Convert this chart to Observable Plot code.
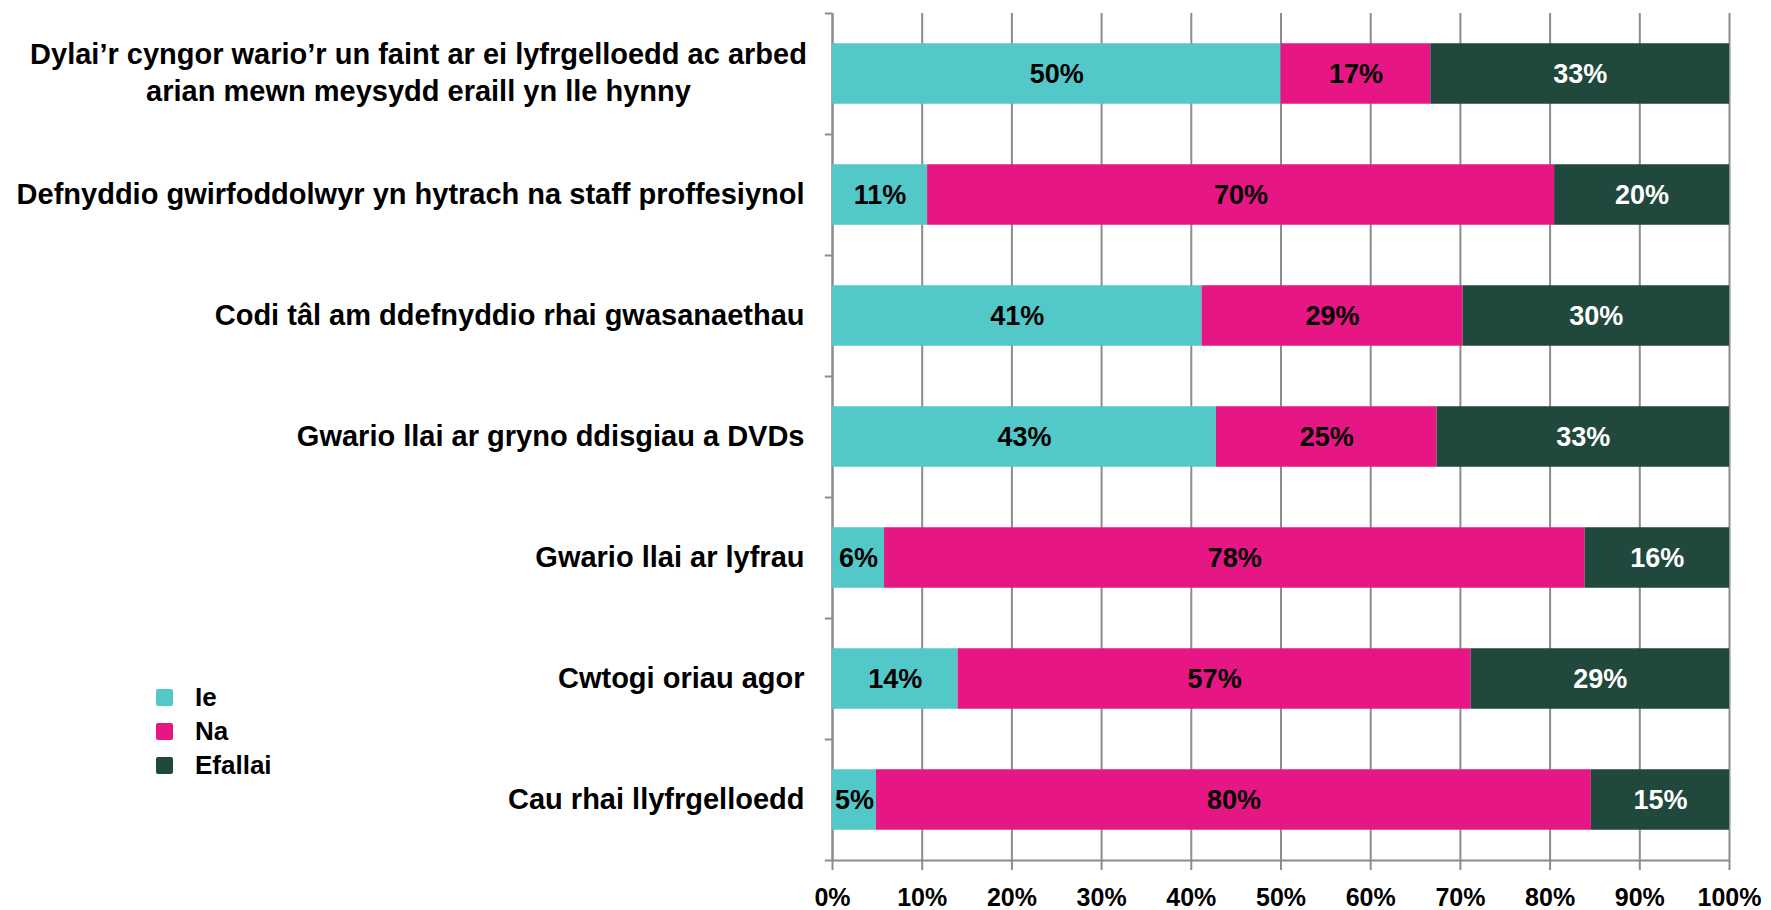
<!DOCTYPE html>
<html><head><meta charset="utf-8">
<script src="https://cdn.jsdelivr.net/npm/d3@7"></script>
<script src="https://cdn.jsdelivr.net/npm/@observablehq/plot@0.6"></script>
<style>
html,body{margin:0;padding:0;background:#fff;}
#wrap{position:relative;width:1771px;height:910px;font-family:"Liberation Sans",Arial,sans-serif;}
#legend{position:absolute;left:156px;top:680px;font-family:"Liberation Sans",Arial,sans-serif;font-weight:bold;font-size:26px;color:#000;}
#legend .item{display:flex;align-items:center;height:34px;}
#legend .sw{width:17px;height:17px;border-radius:2px;margin-right:22px;}
</style></head><body><div id="wrap"><div id="legend"></div></div>
<script>
const questions = [
  "Dylai’r cyngor wario’r un faint ar ei lyfrgelloedd ac arbed\narian mewn meysydd eraill yn lle hynny",
  "Defnyddio gwirfoddolwyr yn hytrach na staff proffesiynol",
  "Codi tâl am ddefnyddio rhai gwasanaethau",
  "Gwario llai ar gryno ddisgiau a DVDs",
  "Gwario llai ar lyfrau",
  "Cwtogi oriau agor",
  "Cau rhai llyfrgelloedd"
];
const responses = ["Ie", "Na", "Efallai"];
const colors = ["#52C9C8", "#E61784", "#20483C"];
const ie      = [50.0, 10.6, 41.2, 42.8, 5.8, 14.0, 4.9];
const na      = [16.7, 69.9, 29.1, 24.6, 78.1, 57.2, 79.7];
const efallai = [33.3, 19.5, 29.7, 32.6, 16.1, 28.8, 15.4];
const xTicks = [0, 10, 20, 30, 40, 50, 60, 70, 80, 90, 100];

const series = [ie, na, efallai];
const data = [];
questions.forEach((q, i) => responses.forEach((r, j) => data.push({q, resp: r, value: series[j][i]})));

const W = 1771, H = 910, mT = 13, mB = 50, mL = 832, mR = 42;
const step = (H - mT - mB) / questions.length;
const gray = "#8c8c8c";
const font = "'Liberation Sans', Arial, sans-serif";

const stackOpts = {x: "value", y: "q", z: "resp", order: responses};
const single = questions.slice(1);
const multi = questions.slice(0, 1);

const chart = Plot.plot({
  width: W, height: H,
  marginTop: mT, marginBottom: mB, marginLeft: mL, marginRight: mR,
  style: {fontFamily: font, color: "#000", background: "#fff"},
  x: {domain: [0, 100], axis: null, label: null},
  y: {domain: questions, paddingInner: 0.5, paddingOuter: 0.25, round: false, axis: null, label: null},
  color: {domain: responses, range: colors},
  marks: [
    Plot.gridX(xTicks, {stroke: gray, strokeOpacity: 1, strokeWidth: 2}),
    Plot.ruleX([0], {stroke: gray, strokeWidth: 2}),
    Plot.ruleY(questions, {y: d => d, x1: -0.8, x2: 0, dy: -step / 2, stroke: gray, strokeWidth: 2}),
    Plot.ruleY(questions.slice(-1), {y: d => d, x1: -0.8, x2: 100, dy: step / 2, stroke: gray, strokeWidth: 2}),
    Plot.axisX(xTicks, {label: null, tickFormat: d => d + "%", tickSize: 10, tickPadding: 18, stroke: gray, strokeWidth: 2, fontSize: 25, fontWeight: "bold", fill: "#000"}),
    Plot.barX(data, Plot.stackX({...stackOpts, fill: "resp"})),
    Plot.text(data.filter(d => d.resp !== "Efallai"), Plot.stackX({...stackOpts, text: d => Math.round(d.value) + "%", fill: "#000", fontSize: 27, fontWeight: "bold"})),
    Plot.text(data, Plot.stackX({...stackOpts, text: d => d.resp === "Efallai" ? Math.round(d.value) + "%" : "", fill: "#fff", fontSize: 27, fontWeight: "bold"})),
    Plot.text(single, {y: d => d, frameAnchor: "left", textAnchor: "end", dx: -28, fontSize: 29, fontWeight: "bold", fill: "#000"}),
    Plot.text(multi, {y: d => d, frameAnchor: "left", textAnchor: "middle", dx: -414, dy: -3, lineHeight: 1.28, fontSize: 29, fontWeight: "bold", fill: "#000"})
  ]
});
document.getElementById("wrap").prepend(chart);

const legend = document.getElementById("legend");
responses.forEach((r, i) => {
  const item = document.createElement("div");
  item.className = "item";
  const sw = document.createElement("span");
  sw.className = "sw";
  sw.style.background = colors[i];
  const t = document.createElement("span");
  t.textContent = r;
  item.append(sw, t);
  legend.append(item);
});
</script>
</body></html>
